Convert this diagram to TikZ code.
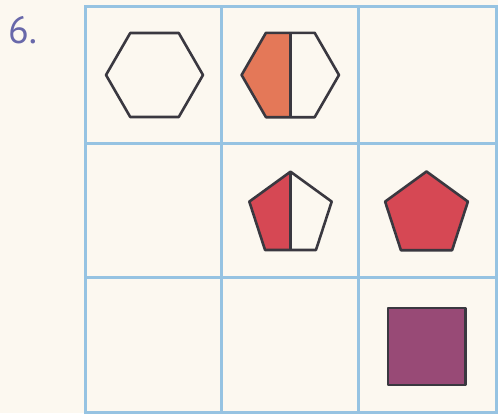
\documentclass[tikz,border=0pt]{standalone}
\usepackage{fontspec}
\newfontfamily\labelfont{PT Sans}
\definecolor{bgc}{RGB}{252,248,240}
\definecolor{gridc}{RGB}{150,195,226}
\definecolor{edgec}{RGB}{58,56,64}
\definecolor{orangec}{RGB}{228,120,88}
\definecolor{redc}{RGB}{214,72,84}
\definecolor{purplec}{RGB}{152,74,118}
\definecolor{numc}{RGB}{104,104,170}
\tikzset{
  gridline/.style={draw=gridc, line width=3pt},
  outline/.style={draw=edgec, line width=2.6pt, line join=round},
  numlabel/.style={text=numc, inner sep=0pt, font=\labelfont\fontsize{38}{38}\selectfont}
}
\begin{document}
\begin{tikzpicture}[x=1pt,y=-1pt]
\fill[bgc] (0,0) rectangle (498,413);
\useasboundingbox (0,0) rectangle (498,413);
% grid
\draw[gridline] (85,6) rectangle (496,412);
\draw[gridline] (221,6) -- (221,412);
\draw[gridline] (358,6) -- (358,412);
\draw[gridline] (85,143) -- (496,143);
\draw[gridline] (85,277) -- (496,277);
% label
\node[numlabel, anchor=base west] (num) at (8,43) {6.};
% hexagon 1
\draw[outline] (203,75) -- (178.75,33) -- (130.25,33) -- (106,75) -- (130.25,117) -- (178.75,117) -- cycle;
% hexagon 2, left half filled
\fill[orangec] (290.3,32.8) -- (265.95,32.8) -- (241.6,75) -- (265.95,117.2) -- (290.3,117.2) -- cycle;
\draw[outline] (339,75) -- (314.65,32.8) -- (265.95,32.8) -- (241.6,75) -- (265.95,117.2) -- (314.65,117.2) -- cycle;
\draw[outline] (290.3,32.8) -- (290.3,117.2);
% pentagon 1, left half filled
\fill[redc] (290.5,171.7) -- (249.3,201.6) -- (265.05,250) -- (290.5,250) -- cycle;
\draw[outline] (290.5,171.7) -- (331.7,201.6) -- (315.95,250) -- (265.05,250) -- (249.3,201.6) -- cycle;
\draw[outline] (290.5,171.7) -- (290.5,250);
% pentagon 2
\draw[outline, fill=redc] (426.5,171.5) -- (467.9,201.6) -- (452.1,250.2) -- (400.9,250.2) -- (385.1,201.6) -- cycle;
% square
\draw[outline, fill=purplec] (388,308) rectangle (465.5,385);
\end{tikzpicture}
\end{document}
